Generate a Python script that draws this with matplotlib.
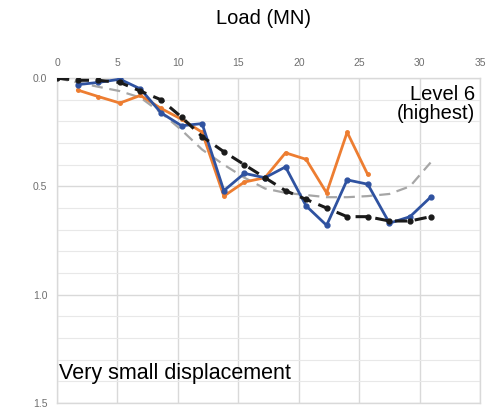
import matplotlib
matplotlib.use("Agg")
import matplotlib.pyplot as plt
from matplotlib.ticker import MultipleLocator

plt.rcParams['font.family'] = ['Liberation Sans', 'DejaVu Sans']

# Load steps (MN)
load = [0.0, 1.7, 3.4, 5.2, 6.9, 8.6, 10.3, 12.0, 13.8, 15.5, 17.2, 18.9,
        20.6, 22.3, 24.0, 25.7, 27.5, 29.2, 30.9]

# Measured displacement, sensor A (blue)
load_a = load[1:]
disp_a = [0.03, 0.02, 0.005, 0.05, 0.16, 0.22, 0.21, 0.52, 0.44, 0.46, 0.41,
          0.59, 0.68, 0.47, 0.49, 0.67, 0.64, 0.55]

# Measured displacement, sensor B (orange)
load_b = load[1:16]
disp_b = [0.055, 0.085, 0.115, 0.08, 0.14, 0.19, 0.25, 0.545, 0.48, 0.46,
          0.345, 0.375, 0.53, 0.25, 0.445]

# Model prediction 1 (black dashed)
disp_m1 = [0.0, 0.01, 0.01, 0.02, 0.06, 0.10, 0.18, 0.27, 0.34, 0.40, 0.46,
           0.52, 0.56, 0.60, 0.64, 0.64, 0.66, 0.66, 0.64]

# Model prediction 2 (grey dashed)
disp_m2 = [0.0, 0.02, 0.04, 0.06, 0.09, 0.16, 0.24, 0.33, 0.40, 0.46, 0.51,
           0.53, 0.54, 0.55, 0.55, 0.545, 0.535, 0.50, 0.39]

x_ticks = [0, 5, 10, 15, 20, 25, 30, 35]
y_ticks = [0.0, 0.5, 1.0, 1.5]

fig = plt.figure(figsize=(4.96, 4.09), dpi=100)
ax = fig.add_axes([0.115, 0.015, 0.853, 0.794])

ax.plot(load, disp_m2, color='#a6a6a6', lw=1.6, ls=(0, (5, 3)), zorder=2)
ax.plot(load_b, disp_b, color='#ed7d31', lw=2.0, marker='o', ms=2.5, zorder=3)
ax.plot(load_a, disp_a, color='#2f52a0', lw=2.0, marker='o', ms=3.5, zorder=4)
ax.plot(load, disp_m1, color='#1a1a1a', lw=2.2, ls=(0, (4, 2.5)),
        marker='o', ms=3.5, zorder=5)

ax.set_xlim(0, 35)
ax.set_ylim(1.5, 0.0)
ax.xaxis.tick_top()
ax.set_xticks(x_ticks)
ax.set_yticks(y_ticks)
ax.set_yticklabels([f"{v:.1f}" for v in y_ticks])
ax.yaxis.set_minor_locator(MultipleLocator(0.1))
ax.tick_params(axis='both', which='both', length=0, labelsize=7.5,
               labelcolor='#6f6f6f', pad=7)
ax.grid(True, which='major', color='#d9d9d9', lw=1.0)
ax.grid(True, which='minor', axis='y', color='#e8e8e8', lw=0.8)
ax.set_axisbelow(True)
for s in ax.spines.values():
    s.set_color('#d9d9d9')
    s.set_linewidth(1.0)

fig.text(0.532, 0.955, 'Load (MN)', ha='center', va='center', fontsize=14.5)
ax.text(0.987, 0.98, 'Level 6\n(highest)', transform=ax.transAxes,
        ha='right', va='top', fontsize=14.5, linespacing=1.05)
ax.text(0.005, 0.09, 'Very small displacement', transform=ax.transAxes,
        ha='left', va='center', fontsize=15.5)

fig.savefig('out.png', dpi=100)
